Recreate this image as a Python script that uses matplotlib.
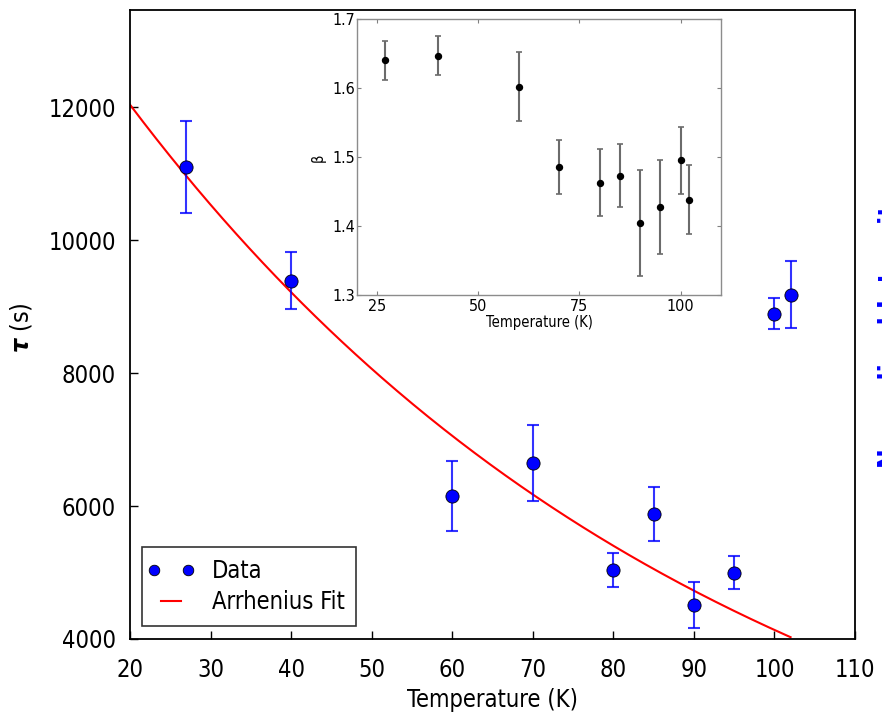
import numpy as np
import matplotlib
matplotlib.use("Agg")
import matplotlib.pyplot as plt
from matplotlib.legend_handler import HandlerLine2D

plt.rcParams['font.family'] = ['DejaVu Sans']
plt.rcParams['font.stretch'] = 'condensed'
plt.rcParams['mathtext.fontset'] = 'dejavusans'

# ---- main data ----
temps = [27, 40, 60, 70, 80, 85, 90, 95, 100, 102]
tau = [11100, 9390, 6150, 6645, 5040, 5880, 4515, 4995, 8895, 9180]
tau_err = [690, 430, 530, 570, 260, 400, 345, 250, 230, 510]

# Arrhenius fit: tau = fit_A * exp(-T / fit_T0)
fit_A = 15720.0
fit_T0 = 74.9
fit_Tmin, fit_Tmax = 20, 102

# ---- inset data ----
beta = [1.640, 1.647, 1.602, 1.486, 1.463, 1.473, 1.404, 1.428, 1.495, 1.438]
beta_err = [0.028, 0.028, 0.050, 0.039, 0.048, 0.046, 0.077, 0.068, 0.048, 0.050]

xticks_main = [20, 30, 40, 50, 60, 70, 80, 90, 100, 110]
yticks_main = [4000, 6000, 8000, 10000, 12000]
xticks_inset = [25, 50, 75, 100]
yticks_inset = [1.3, 1.4, 1.5, 1.6, 1.7]

FS = 17

W, H = 882, 717
fig = plt.figure(figsize=(W / 100, H / 100), dpi=100)

ax = fig.add_axes([130 / W, 1 - 639 / H, 725 / W, 629 / H])
T_fit = np.linspace(fit_Tmin, fit_Tmax, 300)
fit_line, = ax.plot(T_fit, fit_A * np.exp(-T_fit / fit_T0), color='red', lw=1.5,
                    label='Arrhenius Fit', zorder=2)
ax.errorbar(temps, tau, yerr=tau_err, fmt='none', ecolor='blue', elinewidth=1.5,
            capsize=4.5, capthick=1.5, alpha=0.8, zorder=3)
data_line, = ax.plot(temps, tau, 'o', color='blue', markersize=9.5,
                     markeredgecolor='black', markeredgewidth=0.6, label='Data',
                     zorder=4)

ax.set_xlim(20, 110)
ax.set_ylim(4000, 13460)
ax.set_xticks(xticks_main)
ax.set_yticks(yticks_main)
ax.tick_params(direction='in', length=6, width=1, labelsize=FS, top=False, right=False)
ax.tick_params(axis='x', pad=14)
ax.tick_params(axis='y', pad=10)
for s in ax.spines.values():
    s.set_linewidth(1.3)

ax.set_xlabel('Temperature (K)', fontsize=FS, va='center')
ax.xaxis.set_label_coords(0.5, (639 - 700) / 629)
ax.set_ylabel(r'$\boldsymbol{\tau}$ (s)', fontsize=FS + 1, va='center')
ax.yaxis.set_label_coords((21 - 130) / 725, (639 - 328) / 629)

leg = ax.legend([data_line, fit_line], ['Data', 'Arrhenius Fit'], loc='lower left',
                bbox_to_anchor=(12 / 725, 13 / 629), borderaxespad=0,
                numpoints=2, fontsize=FS, handlelength=1.45, handletextpad=1.0,
                labelspacing=0.3, borderpad=0.5, fancybox=False, markerscale=0.8,
                handler_map={data_line: HandlerLine2D(marker_pad=0)})
leg.get_frame().set_edgecolor('black')
leg.get_frame().set_linewidth(1.2)

# partially visible right label (cut by the image edge)
fig.text(878 / W, 1 - 328 / H, 'Normalized Intensity', rotation=90, color='blue',
         fontweight='bold', fontsize=19, ha='left', va='center')

# ---- inset ----
IFS = 11.5
ins = fig.add_axes([357 / W, 1 - 295 / H, 364 / W, 276 / H])
ins.errorbar(temps, beta, yerr=beta_err, fmt='o', color='black', markersize=4.3,
             ecolor='0.42', elinewidth=1.5, capsize=2, capthick=1.2)
ins.set_xlim(20, 110)
ins.set_ylim(1.3, 1.7)
ins.set_xticks(xticks_inset)
ins.set_yticks(yticks_inset)
ins.tick_params(direction='in', length=3, width=0.8, color='0.5', labelsize=IFS,
                top=True, right=True)
ins.tick_params(axis='y', pad=1)
ins.tick_params(axis='x', pad=3)
for s in ins.spines.values():
    s.set_color('0.55')
    s.set_linewidth(1.0)
ins.set_xlabel('Temperature (K)', fontsize=10.5, va='center')
ins.xaxis.set_label_coords(0.5, (295 - 323) / 276)
ins.set_ylabel('β', fontsize=10.5, va='center')
ins.yaxis.set_label_coords((318 - 357) / 364, (295 - 158) / 276)

fig.savefig('out.png', dpi=100)
